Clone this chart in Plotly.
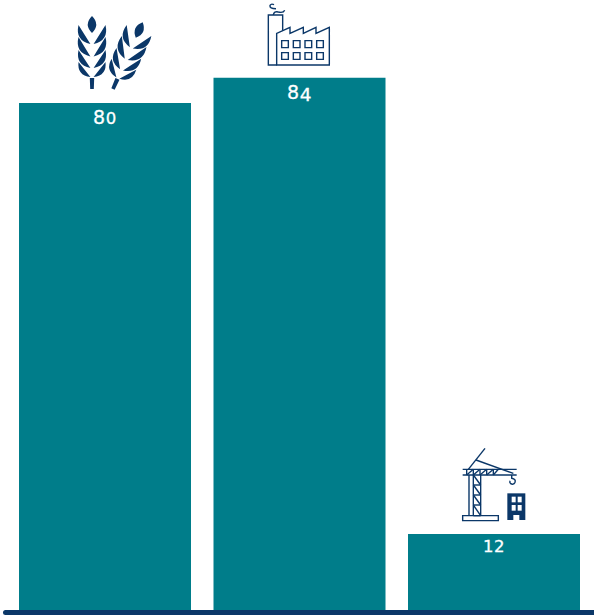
import math
import plotly.graph_objects as go

sectors = ["Agriculture", "Industry", "Construction"]
values = [80, 84, 12]

TEAL = "#007d8a"
NAVY = "#0b3768"
WIDTH, HEIGHT = 594, 616


def numeral(value):
    # Old-style figures: 0, 1 and 2 sit at x-height, 4 hangs under the baseline.
    weight = "stroke:white;stroke-width:0.3px;letter-spacing:0.6px"
    parts = []
    for ch in str(value):
        if ch in "012":
            parts.append(f'<span style="font-size:16.5px;{weight}">{ch}</span>')
        elif ch == "4":
            parts.append(f'<span style="font-size:18.5px;baseline-shift:-2px;{weight}">{ch}</span>')
        else:
            parts.append(f'<span style="{weight}">{ch}</span>')
    return "".join(parts)


def outline(points, close=False):
    d = "M" + " L".join(f"{x:.2f},{y:.2f}" for x, y in points)
    return d + (" Z" if close else "")


def rect_path(x0, y0, x1, y1):
    return outline([(x0, y0), (x1, y0), (x1, y1), (x0, y1)], close=True)


def grain(base, tip, belly, back=0.2):
    # Leaf from base to tip: belly sets the lower edge, back the upper one.
    (bx, by), (tx, ty) = base, tip
    mx, my = (bx + tx) / 2, (by + ty) / 2
    nx, ny = -(ty - by), tx - bx
    c1 = (mx + nx * belly, my + ny * belly)
    c2 = (mx - nx * belly * back, my - ny * belly * back)
    return (f"M{bx:.2f},{by:.2f} Q{c1[0]:.2f},{c1[1]:.2f} {tx:.2f},{ty:.2f} "
            f"Q{c2[0]:.2f},{c2[1]:.2f} {bx:.2f},{by:.2f} Z")


def wheat_path(foot_x, foot_y, tilt_deg):
    # Ear of wheat described upright from its foot, then tilted about the foot.
    t = math.radians(tilt_deg)

    def rot(dx, dy):
        return (foot_x + dx * math.cos(t) - dy * math.sin(t),
                foot_y + dx * math.sin(t) + dy * math.cos(t))

    parts = [outline([rot(-2.2, -11), rot(2.2, -11), rot(1.8, 0), rot(-1.8, 0)], close=True)]
    parts.append(grain(rot(0, -56), rot(0, -73), 0.5, back=1))
    for base_dy, tip_dy in [(-45, -64), (-32.5, -52), (-21, -39), (-12, -27)]:
        parts.append(grain(rot(-1.6, base_dy), rot(-13.5, tip_dy), -0.5, back=0.0))
        parts.append(grain(rot(1.6, base_dy), rot(13.5, tip_dy), 0.5, back=0.0))
    return " ".join(parts)


def factory_paths():
    ox, oy = 250, 0
    p = lambda x, y: (ox + x / 3, oy + y / 3)
    paths = [
        outline([p(80, 195), p(55, 195), p(55, 45), p(98, 45), p(98, 92)]),
        outline([p(80, 195), p(80, 100), p(120, 82), p(120, 100), p(160, 82), p(160, 100),
                 p(198, 82), p(198, 100), p(238, 82), p(238, 195)], close=True),
        (f"M{p(70, 45)[0]:.1f},{p(70, 45)[1]:.1f} Q{p(72, 32)[0]:.1f},{p(72, 32)[1]:.1f} "
         f"{p(85, 36)[0]:.1f},{p(85, 36)[1]:.1f} Q{p(100, 40)[0]:.1f},{p(100, 40)[1]:.1f} "
         f"{p(104, 31)[0]:.1f},{p(104, 31)[1]:.1f}"),
        (f"M{p(78, 26)[0]:.1f},{p(78, 26)[1]:.1f} Q{p(58, 26)[0]:.1f},{p(58, 26)[1]:.1f} "
         f"{p(60, 16)[0]:.1f},{p(60, 16)[1]:.1f} Q{p(64, 10)[0]:.1f},{p(64, 10)[1]:.1f} "
         f"{p(72, 14)[0]:.1f},{p(72, 14)[1]:.1f}"),
    ]
    for y0, y1 in [(122, 143), (158, 178)]:
        for x0, x1 in [(95, 115), (130, 150), (165, 185), (200, 220)]:
            paths.append(rect_path(*p(x0, y0), *p(x1, y1)))
    return paths


def crane_paths():
    ox, oy = 450, 440
    p = lambda x, y: (ox + x / 3, oy + y / 3)
    lines = [
        [p(38, 88), p(200, 88)],
        [p(38, 105), p(200, 105)],
        [p(55, 88), p(105, 25)],
        [p(78, 60), p(190, 100)],
        [p(57, 105), p(57, 227)],
        [p(70, 105), p(70, 227)],
        [p(92, 105), p(92, 227)],
    ]
    for a, b in [(50, 70), (70, 90), (90, 110), (110, 130), (130, 145)]:
        lines.append([p(a, 105), p(b, 88)])
        lines.append([p(a, 88), p(a, 105)])
    for y0, y1 in [(105, 135), (135, 165), (165, 195), (195, 227)]:
        lines.append([p(70, y0), p(92, y1)])
        lines.append([p(70, y1), p(92, y1)])
    paths = [outline(seg) for seg in lines]
    paths.append(rect_path(*p(38, 227), *p(145, 242)))
    paths.append(
        f"M{p(185, 105)[0]:.1f},{p(185, 105)[1]:.1f} L{p(185, 115)[0]:.1f},{p(185, 115)[1]:.1f} "
        f"Q{p(199, 118)[0]:.1f},{p(199, 118)[1]:.1f} {p(195, 127)[0]:.1f},{p(195, 127)[1]:.1f} "
        f"Q{p(190, 136)[0]:.1f},{p(190, 136)[1]:.1f} {p(182, 131)[0]:.1f},{p(182, 131)[1]:.1f} "
        f"Q{p(178, 127)[0]:.1f},{p(178, 127)[1]:.1f} {p(180, 122)[0]:.1f},{p(180, 122)[1]:.1f}"
    )
    return paths


def tower_shapes():
    ox, oy = 450, 440
    p = lambda x, y: (ox + x / 3, oy + y / 3)
    out = [overlay_shape(rect_path(*p(172, 160), *p(226, 240)), fill=NAVY)]
    for box in [(185, 170, 197, 187), (203, 170, 215, 187),
                (185, 195, 197, 212), (203, 195, 215, 212), (190, 225, 208, 240)]:
        out.append(overlay_shape(rect_path(*p(box[0], box[1]), *p(box[2], box[3])), fill="white"))
    return out


def overlay_shape(path, fill=None, stroke=None, width=0):
    # Decorations live on a hidden axis pair measured in page pixels.
    return dict(type="path", path=path, xref="x2", yref="y2", layer="above",
                fillcolor=fill if fill else "rgba(0,0,0,0)",
                line=dict(color=stroke if stroke else "rgba(0,0,0,0)", width=width))


fig = go.Figure()
fig.add_trace(go.Bar(
    x=sectors,
    y=values,
    text=[numeral(v) for v in values],
    textposition="inside",
    insidetextanchor="end",
    textangle=0,
    constraintext="none",
    insidetextfont=dict(family="DejaVu Sans, sans-serif", size=19, color="white"),
    marker=dict(color=TEAL, line=dict(width=0)),
    hoverinfo="skip",
))
# Invisible carrier so the pixel axes exist.
fig.add_trace(go.Scatter(x=[0], y=[0], xaxis="x2", yaxis="y2", mode="markers",
                         marker=dict(opacity=0), hoverinfo="skip", showlegend=False))

shapes = [
    overlay_shape(wheat_path(92, 89, 0), fill=NAVY),
    overlay_shape(wheat_path(113, 89, 24), fill=NAVY),
]
shapes += [overlay_shape(d, stroke=NAVY, width=1.4) for d in factory_paths()]
shapes += [overlay_shape(d, stroke=NAVY, width=1.4) for d in crane_paths()]
shapes += tower_shapes()
# Rounded baseline under the bars.
shapes.append(overlay_shape(
    "M5.5,610 L594,610 L594,615 L5.5,615 Q3,615 3,612.5 Q3,610 5.5,610 Z", fill=NAVY))

fig.update_layout(
    width=WIDTH,
    height=HEIGHT,
    margin=dict(l=0, r=0, t=0, b=0),
    paper_bgcolor="white",
    plot_bgcolor="rgba(0,0,0,0)",
    showlegend=False,
    bargap=0.1157,
    shapes=shapes,
    xaxis=dict(domain=[7.75 / WIDTH, 591.25 / WIDTH], range=[-0.5, 2.5], visible=False, fixedrange=True),
    yaxis=dict(domain=[6 / HEIGHT, 1], range=[0, 96.25], visible=False, fixedrange=True),
    xaxis2=dict(domain=[0, 1], range=[0, WIDTH], visible=False, anchor="y2", fixedrange=True),
    yaxis2=dict(domain=[0, 1], range=[HEIGHT, 0], visible=False, anchor="x2", fixedrange=True),
)

fig.write_html("out.html", config={"displayModeBar": False})
